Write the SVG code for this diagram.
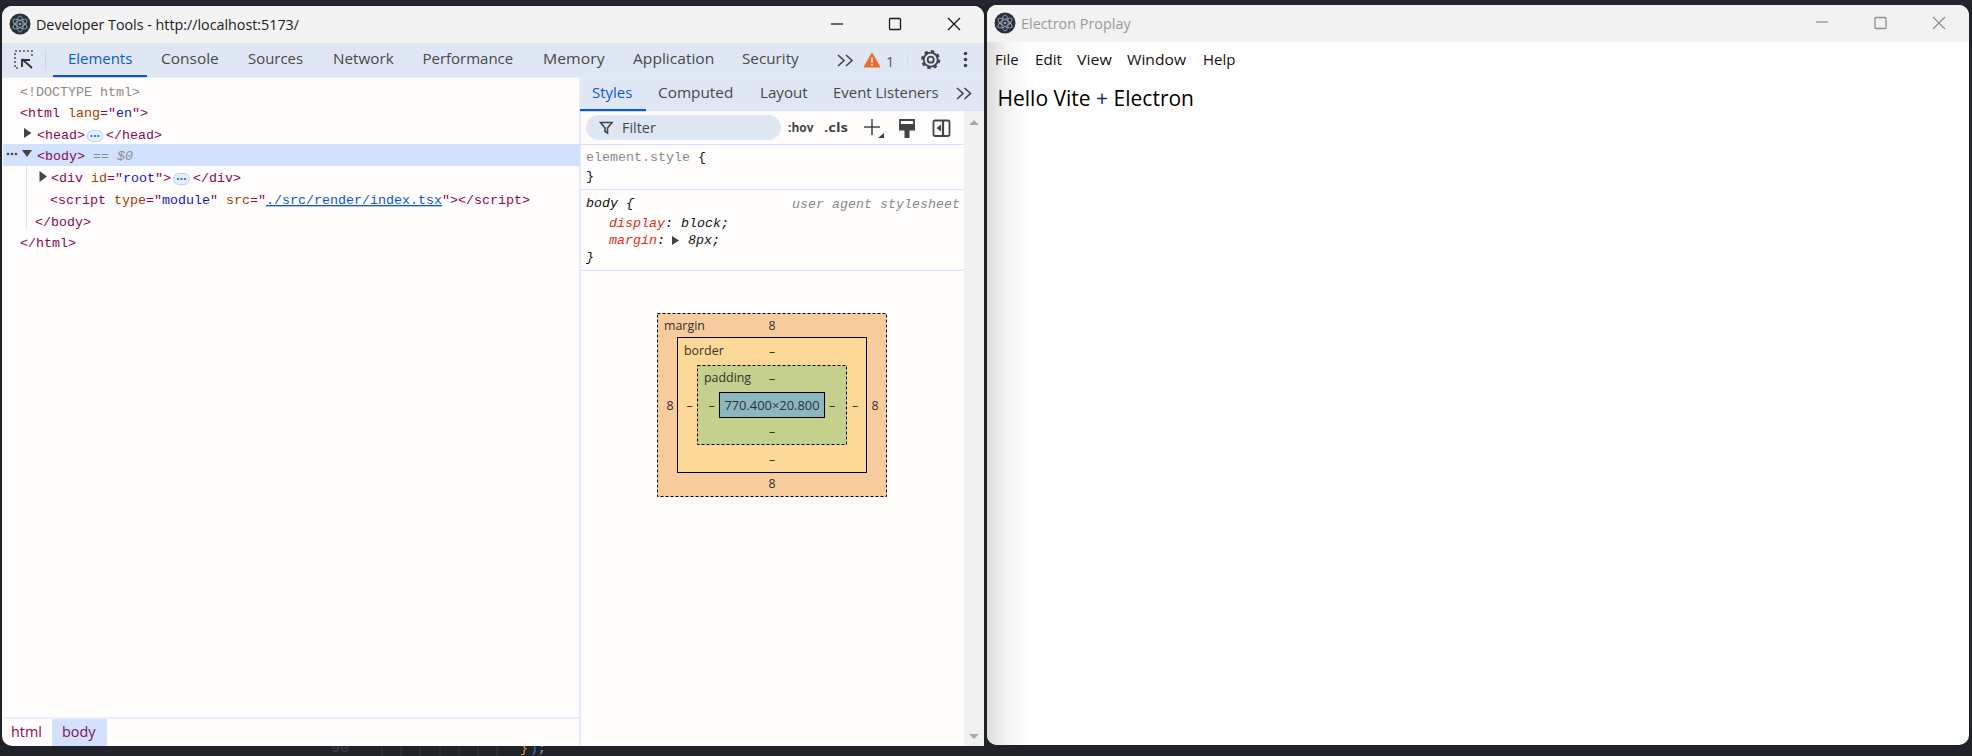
<svg xmlns="http://www.w3.org/2000/svg" width="1972" height="756" viewBox="0 0 1972 756">
<style>
text{white-space:pre}
.s{font-family:"Open Sans","Noto Sans","Liberation Sans",sans-serif}
.m{font-family:"Liberation Mono","DejaVu Sans Mono",monospace;font-size:13.33px}
.tab{font-size:14.8px;fill:#474747}
.tag{fill:#870a55}.attr{fill:#994500}.val{fill:#1a1aa6}.gray{fill:#8a8a8a}.blk{fill:#111}.red{fill:#d93025}
.i{font-style:italic}
.bm{font-size:12.4px;fill:#303030;text-anchor:middle}
.bl{font-size:12.4px;fill:#303030}
.sep{stroke:#d3e3fd;stroke-width:1.2;fill:none}
.ic{stroke:#444;fill:none;stroke-width:1.6}
.ctl{stroke:#1a1a1a;fill:none;stroke-width:1.3}
.ctg{stroke:#8f8f8f;fill:none;stroke-width:1.3}
.menu{font-size:14.8px;fill:#111}
.bot{font-family:"Liberation Mono",monospace;font-size:13px}
</style>
<defs>
<linearGradient id="sh" x1="0" x2="1" y1="0" y2="0"><stop offset="0" stop-color="#dcdcdc"/><stop offset="0.5" stop-color="#f5f5f5"/><stop offset="1" stop-color="#fff"/></linearGradient>
<g id="logo"><circle r="10.5" fill="#2b2f3a"/><g fill="none" stroke="#8fa9b5" stroke-width="0.9"><ellipse rx="8" ry="3.2" transform="rotate(30)"/><ellipse rx="8" ry="3.2" transform="rotate(90)"/><ellipse rx="8" ry="3.2" transform="rotate(150)"/></g><circle r="1.3" fill="#8fa9b5"/></g>
<g id="pill"><rect x="0" y="0" width="16" height="11" rx="5.5" fill="#e6effc" stroke="#a8c7fa" stroke-width="0.8"/><circle cx="4.5" cy="5.5" r="1.1" fill="#1a5fd0"/><circle cx="8" cy="5.5" r="1.1" fill="#1a5fd0"/><circle cx="11.5" cy="5.5" r="1.1" fill="#1a5fd0"/></g>
</defs>
<rect width="1972" height="756" fill="#1f2229"/>
<g id="backdrop">
<rect x="0" y="0" width="1972" height="5" fill="#23262e"/>
<text x="331" y="752" class="bot" fill="#3d424c" textLength="18" lengthAdjust="spacingAndGlyphs">90</text>
<g stroke="#33363e" stroke-width="1"><path d="M382 746V756M401 746V756M420 746V756M440 746V756M459 746V756M478 746V756M497 746V756"/></g>
<text x="520" y="752" class="bot" fill="#d7a32a">}</text>
<text x="530" y="752" class="bot" fill="#3b78c4">)</text>
<text x="538" y="752" class="bot" fill="#9aa0a6">;</text>
</g>
<g id="devtools-window">
<rect x="2" y="6" width="982" height="740" rx="10" fill="#fefdfb"/>
<path d="M2 43V16a10 10 0 0 1 10-10H974a10 10 0 0 1 10 10V43Z" fill="#f3f3f3"/>
<use href="#logo" x="20" y="24"/>
<text x="36" y="30" class="s" font-size="14.4" fill="#1a1a1a" textLength="263" lengthAdjust="spacingAndGlyphs">Developer Tools - http://localhost:5173/</text>
<path class="ctl" d="M831 24H843"/><rect class="ctl" x="889.5" y="18.5" width="11" height="11" rx="1"/><path class="ctl" d="M948 18L960 30M960 18L948 30"/>
<rect x="2" y="43" width="982" height="34" fill="#dfe7f5"/>
<path class="sep" d="M2 77H984"/>
</g>
<g id="main-tabs">
<g fill="none"><path stroke="#555" stroke-width="1.6" stroke-dasharray="2 2" d="M32 56V51H15V68H20"/><path stroke="#333" stroke-width="1.9" d="M22 60H30M22 59V67M22 59L32 68"/></g>
<path d="M45.5 50V70" stroke="#c7d4ea"/>
<rect x="53" y="75" width="94" height="2.2" fill="#0b57d0"/>
<text x="68" y="64" class="s tab" style="fill:#0b57d0" textLength="64.300" lengthAdjust="spacingAndGlyphs">Elements</text>
<text x="161" y="64" class="s tab" textLength="57.800" lengthAdjust="spacingAndGlyphs">Console</text>
<text x="248" y="64" class="s tab" textLength="55" lengthAdjust="spacingAndGlyphs">Sources</text>
<text x="333" y="64" class="s tab" textLength="60.800" lengthAdjust="spacingAndGlyphs">Network</text>
<text x="422.500" y="64" class="s tab" textLength="90.700" lengthAdjust="spacingAndGlyphs">Performance</text>
<text x="543" y="64" class="s tab" textLength="61.600" lengthAdjust="spacingAndGlyphs">Memory</text>
<text x="633" y="64" class="s tab" textLength="81.300" lengthAdjust="spacingAndGlyphs">Application</text>
<text x="742" y="64" class="s tab" textLength="56.700" lengthAdjust="spacingAndGlyphs">Security</text>
<path class="ic" d="M838 55L844 60.500L838 66M846 55L852 60.500L846 66"/>
<path d="M872 53L880 67H864Z" fill="#ef6c2e" stroke="#ef6c2e" stroke-linejoin="round"/><path d="M872 57.500V62.500M872 64V65.500" stroke="#fff" stroke-width="1.500"/>
<text x="886" y="67" class="s" font-size="14.4" fill="#555">1</text>
<path d="M907.500 50V69" stroke="#cfdcf2"/>
<g transform="translate(930.700 59.700)"><circle r="3" fill="none" stroke="#444" stroke-width="1.800"/><circle r="7" fill="none" stroke="#444" stroke-width="1.800"/><circle r="8.400" fill="none" stroke="#444" stroke-width="2.400" stroke-dasharray="3.300 3.300"/></g>
<g fill="#444"><circle cx="965.500" cy="53.500" r="1.800"/><circle cx="965.500" cy="59.500" r="1.800"/><circle cx="965.500" cy="65.500" r="1.800"/></g>
</g>
<g id="dom-tree" class="m">
<rect x="3" y="144" width="577" height="22" fill="#d2e2fc"/>
<path d="M26.500 166V230" stroke="#dbe6f8"/>
<text x="20" y="96" class="gray">&lt;!DOCTYPE html&gt;</text>
<text x="20" y="117" class="tag">&lt;html <tspan class="attr">lang</tspan>="<tspan class="val">en</tspan>"&gt;</text>
<path d="M24 128L31.500 133L24 138Z" fill="#444"/>
<text x="37" y="139" class="tag">&lt;head&gt;</text>
<use href="#pill" x="87" y="130.500"/>
<text x="106" y="139" class="tag">&lt;/head&gt;</text>
<g fill="#444"><circle cx="8" cy="154" r="1.300"/><circle cx="12" cy="154" r="1.300"/><circle cx="16" cy="154" r="1.300"/></g>
<path d="M22 150H32L27 157Z" fill="#444"/>
<text x="37" y="160" class="tag">&lt;body&gt;</text>
<text x="93" y="160" class="gray i">== $0</text>
<path d="M39.500 171L47 176.500L39.500 182Z" fill="#444"/>
<text x="51" y="182" class="tag">&lt;div <tspan class="attr">id</tspan>="<tspan class="val">root</tspan>"&gt;</text>
<use href="#pill" x="173.500" y="173.500"/>
<text x="193" y="182" class="tag">&lt;/div&gt;</text>
<text x="50" y="204" class="tag">&lt;script <tspan class="attr">type</tspan>="<tspan class="val">module</tspan>" <tspan class="attr">src</tspan>="<tspan fill="#0b57d0" text-decoration="underline">./src/render/index.tsx</tspan>"&gt;&lt;/script&gt;</text>
<text x="35" y="226" class="tag">&lt;/body&gt;</text>
<text x="20" y="247" class="tag">&lt;/html&gt;</text>
</g>
<g id="breadcrumbs">
<path class="sep" d="M3 718H580"/>
<rect x="52" y="719" width="55" height="27" fill="#d2e2fc"/>
<text x="11" y="737" class="s" font-size="14.4" fill="#870a55">html</text>
<text x="62" y="737" class="s" font-size="14.4" fill="#870a55">body</text>
</g>
<g id="styles-pane">
<path d="M580 77V746" stroke="#d3e3fd" stroke-width="1.200"/>
<rect x="581" y="77.500" width="403" height="33" fill="#dfe7f5"/>
<path class="sep" d="M580 110.500H984"/>
<rect x="580" y="109" width="66" height="2.200" fill="#0b57d0"/>
<text x="592" y="98" class="s tab" style="fill:#0b57d0" textLength="40.300" lengthAdjust="spacingAndGlyphs">Styles</text>
<text x="658" y="98" class="s tab" textLength="75.300" lengthAdjust="spacingAndGlyphs">Computed</text>
<text x="760" y="98" class="s tab" textLength="47.700" lengthAdjust="spacingAndGlyphs">Layout</text>
<text x="833" y="98" class="s tab" textLength="105.700" lengthAdjust="spacingAndGlyphs">Event Listeners</text>
<path class="ic" d="M957 88L963 93.500L957 99M964.500 88L970.500 93.500L964.500 99"/>
<rect x="586" y="115" width="195" height="25" rx="12.500" fill="#dfe7f5"/>
<path class="ic" d="M600.500 122.500H612L607.500 128V133L605 131.500V128Z" stroke="#333"/>
<text x="622" y="133" class="s" font-size="14.4" fill="#474747">Filter</text>
<text x="788" y="132" class="s" font-size="12" font-weight="700" fill="#444" textLength="25.500" lengthAdjust="spacingAndGlyphs">:hov</text>
<text x="824" y="132" class="s" font-size="12" font-weight="700" fill="#444" textLength="24" lengthAdjust="spacingAndGlyphs">.cls</text>
<path d="M864 127H880M872 119V135" stroke="#444" stroke-width="1.500"/><path d="M878 138L884 133V138Z" fill="#444"/>
<path d="M900 120H914V125H900Z" fill="none" stroke="#444" stroke-width="1.800"/><path d="M899 125H915V130.500H899ZM904.500 130H909.500V138H904.500Z" fill="#444"/>
<rect x="933.500" y="120.500" width="16" height="15.500" rx="1.500" fill="none" stroke="#444" stroke-width="1.800"/><path d="M943 120.500V136" stroke="#444" stroke-width="2.200"/><path d="M941 124.500V131.500L936.500 128Z" fill="#444"/>
<rect x="964" y="111" width="20" height="635" fill="#f1f1f1"/>
<path d="M974 120L979 125H969Z" fill="#a9a9a9"/><path d="M969 734H979L974 739Z" fill="#a9a9a9"/>
<path class="sep" d="M580 144.500H964M580 189.500H964M580 270.500H964"/>
<g class="m">
<text x="586" y="161" class="gray">element.style <tspan class="blk">{</tspan></text>
<text x="586" y="180" class="blk">}</text>
<text x="586" y="207" class="blk i">body {</text>
<text x="792" y="208" class="gray i">user agent stylesheet</text>
<text x="609" y="227" class="i"><tspan class="red">display</tspan><tspan class="blk">: block;</tspan></text>
<text x="609" y="244" class="i"><tspan class="red">margin</tspan><tspan class="blk">:</tspan></text>
<path d="M672 236L679 240.500L672 245Z" fill="#444"/>
<text x="688" y="244" class="blk i">8px;</text>
<text x="586" y="261" class="blk i">}</text>
</g>
</g>
<g id="box-model">
<rect x="657.500" y="313.500" width="229" height="183" fill="#f9cc9d" stroke="#000" stroke-dasharray="3 2"/>
<rect x="677.500" y="337.500" width="189" height="135" fill="#fdd997" stroke="#000"/>
<rect x="697.500" y="365.500" width="149" height="79" fill="#c4d08c" stroke="#000" stroke-dasharray="3 2"/>
<rect x="719.500" y="392.500" width="105" height="25" fill="#8cb6c0" stroke="#000"/>
<text x="664" y="330" class="s bl">margin</text><text x="772" y="330" class="s bm">8</text>
<text x="684" y="355" class="s bl">border</text><text x="772" y="356" class="s bm">–</text>
<text x="704" y="382" class="s bl">padding</text><text x="772" y="383" class="s bm">–</text>
<text x="772" y="410" class="s bm" style="font-size:12.900px">770.400×20.800</text>
<text x="670" y="410" class="s bm">8</text><text x="689.500" y="410" class="s bm">–</text><text x="711.500" y="410" class="s bm">–</text><text x="832" y="410" class="s bm">–</text><text x="855" y="410" class="s bm">–</text><text x="875" y="410" class="s bm">8</text>
<text x="772" y="436" class="s bm">–</text><text x="772" y="464" class="s bm">–</text><text x="772" y="488" class="s bm">8</text>
</g>
<g id="app-window">
<rect x="987" y="5" width="982" height="740" rx="10" fill="#fff"/>
<path d="M987 42V15a10 10 0 0 1 10-10H1959a10 10 0 0 1 10 10V42Z" fill="#f2f2f2"/>
<path d="M987 42H1030V745H997a10 10 0 0 1-10-10Z" fill="url(#sh)"/>
<path d="M987 15a10 10 0 0 1 10-10H1030V42H987Z" fill="#f2f2f2"/>
<use href="#logo" x="1005" y="23"/>
<text x="1021" y="29" class="s" font-size="14.4" fill="#999">Electron Proplay</text>
<path class="ctg" d="M1816 22H1828"/><rect class="ctg" x="1875" y="17.500" width="11" height="11" rx="1"/><path class="ctg" d="M1933 17L1945 29M1945 17L1933 29"/>
<text x="995" y="65" class="s menu" textLength="23.500" lengthAdjust="spacingAndGlyphs">File</text>
<text x="1035" y="65" class="s menu" textLength="27" lengthAdjust="spacingAndGlyphs">Edit</text>
<text x="1077" y="65" class="s menu" textLength="35" lengthAdjust="spacingAndGlyphs">View</text>
<text x="1127" y="65" class="s menu" textLength="59" lengthAdjust="spacingAndGlyphs">Window</text>
<text x="1203" y="65" class="s menu" textLength="32.500" lengthAdjust="spacingAndGlyphs">Help</text>
<text x="997.500" y="106" class="s" font-size="21" fill="#000" textLength="196.500" lengthAdjust="spacingAndGlyphs">Hello Vite <tspan fill="#12306a">+</tspan> Electron</text>
</g>
</svg>
